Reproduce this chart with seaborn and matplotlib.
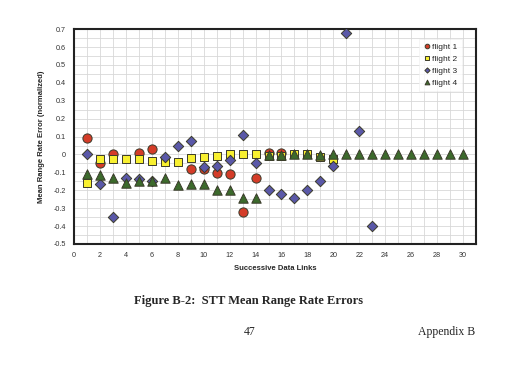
import numpy as np
import pandas as pd
import seaborn as sns
import matplotlib.pyplot as plt

links = list(range(1, 31))
nan = np.nan

flight1 = [0.09, -0.05, 0.0, nan, 0.01, 0.03, nan, nan, -0.08, -0.08,
           -0.105, -0.11, -0.32, -0.13, 0.01, 0.01] + [nan] * 14
flight2 = [-0.16, -0.025, -0.025, -0.028, -0.028, -0.037, -0.042, -0.042, -0.02, -0.014,
           -0.006, 0.0, 0.0, 0.0, -0.006, -0.006, 0.0, 0.0, -0.015, -0.026] + [nan] * 10
flight3 = [0.0, -0.163, -0.352, -0.131, -0.139, -0.148, -0.013, 0.05, 0.076, -0.07,
           -0.065, -0.033, 0.111, -0.05, -0.2, -0.219, -0.243, -0.2, -0.15, -0.065,
           0.676, 0.133, -0.398] + [nan] * 7
flight4 = [-0.111, -0.117, -0.13, -0.157, -0.15, -0.148, -0.133, -0.17, -0.166, -0.164,
           -0.2, -0.196, -0.244, -0.244, -0.004, -0.004, 0.0, 0.0, -0.002, 0.0,
           0.0, 0.0, 0.0, 0.0, 0.0, 0.0, 0.0, 0.0, 0.0, 0.0]

df = pd.DataFrame({"link": links, "flight 1": flight1, "flight 2": flight2,
                   "flight 3": flight3, "flight 4": flight4})
df = df.melt(id_vars="link", var_name="flight", value_name="err").dropna()

sns.set_style("white")
plt.rcParams['font.family'] = ['Liberation Sans', 'DejaVu Sans']

fig = plt.figure(figsize=(5.22, 3.78), dpi=100)
ax = fig.add_axes([0.1418, 0.3545, 0.770, 0.5685])

# colour, marker, size per flight
styles = {
    "flight 1": ("#d43c28", "o", 44),
    "flight 2": ("#f8f030", "s", 40),
    "flight 3": ("#5a58a8", "D", 28),
    "flight 4": ("#3c6a2c", "^", 46),
}
for name, (col, mk, size) in styles.items():
    sub = df[df["flight"] == name]
    sns.scatterplot(data=sub, x="link", y="err", color=col, marker=mk, s=size,
                    edgecolor="#3a3a2a", linewidth=0.7, ax=ax, zorder=3, label=name)

ax.set_xlim(0, 31)
ax.set_ylim(-0.5, 0.7)
ax.set_xticks(range(0, 31, 2))
ax.set_xticks(range(0, 32), minor=True)
yt = np.round(np.arange(-0.5, 0.71, 0.1), 1)
ax.set_yticks(yt)
ax.set_yticklabels(["0" if v == 0 else f"{v:g}" for v in yt])
ax.set_yticks(np.arange(-0.5, 0.71, 0.05), minor=True)
ax.grid(which="both", color="#d8d8d8", linewidth=0.6, zorder=0)
ax.set_axisbelow(True)
ax.tick_params(labelsize=5.2, length=0, pad=6, colors="#333333")
for sp in ax.spines.values():
    sp.set_linewidth(1.5)
    sp.set_color("#222222")

ax.set_xlabel("Successive Data Links", fontsize=5.5, fontweight="bold", labelpad=4)
ax.set_ylabel("Mean Range Rate Error (normalized)", fontsize=5.5, fontweight="bold", labelpad=6)

leg = ax.legend(loc="upper right", bbox_to_anchor=(0.975, 0.975), fontsize=6,
                frameon=True, handletextpad=0.1, borderpad=0.5, labelspacing=0.5,
                markerscale=0.5, handlelength=1.0, fancybox=False)
leg.get_frame().set_edgecolor("#eeeeee")
leg.get_frame().set_linewidth(0.5)

fig.text(0.477, 0.205, "Figure B-2:  STT Mean Range Rate Errors", ha="center", va="center",
         fontsize=9, fontweight="bold", family="Liberation Serif")
fig.text(0.479, 0.121, "47", ha="center", va="center", fontsize=8.5, family="Liberation Serif")
fig.text(0.91, 0.121, "Appendix B", ha="right", va="center", fontsize=8.5, family="Liberation Serif")

fig.savefig("out.png", dpi=100)
